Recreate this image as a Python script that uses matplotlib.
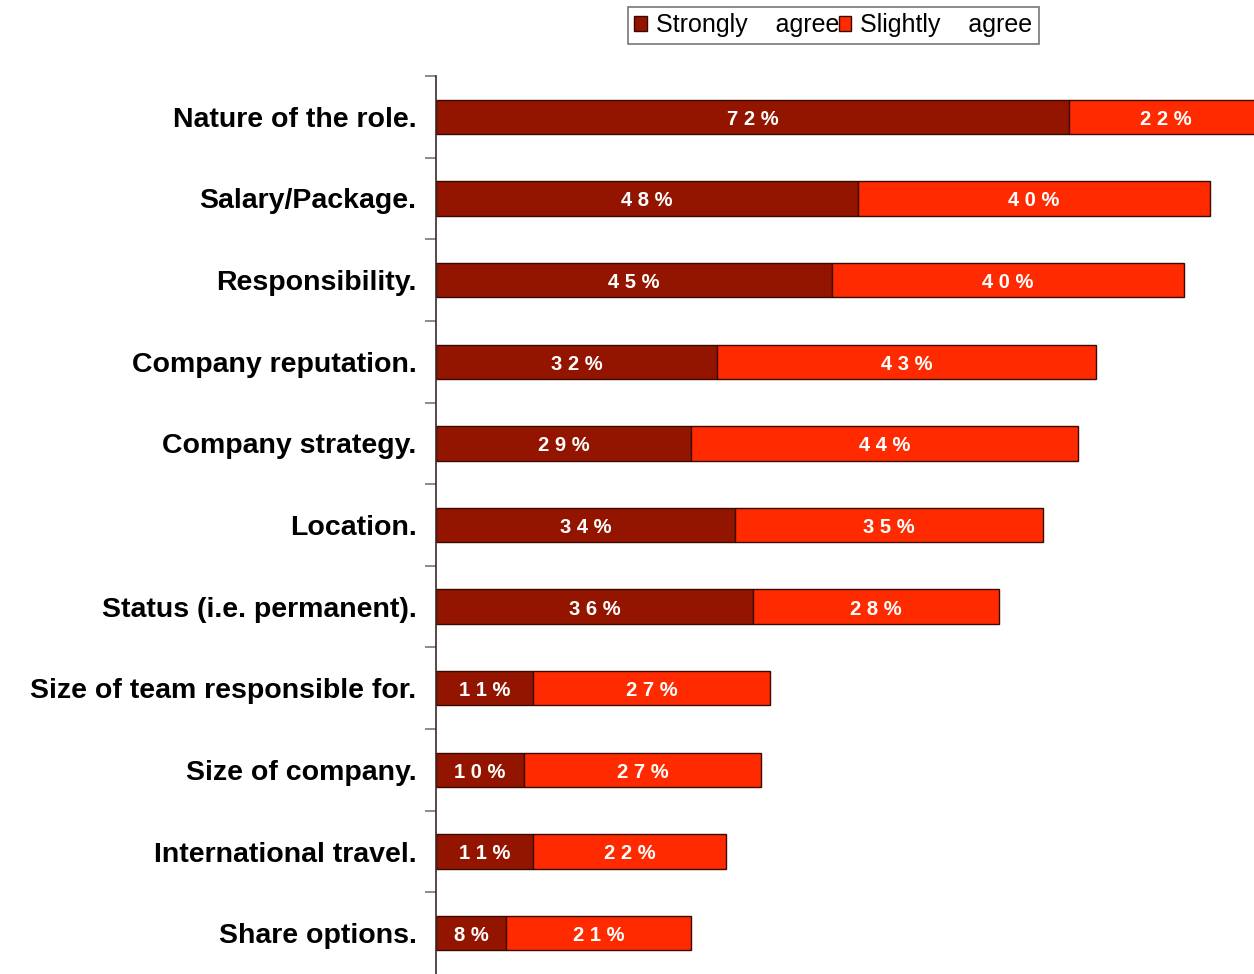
import numpy as np
import matplotlib.pyplot as plt

categories = ['Nature of the role.', 'Salary/Package.', 'Responsibility.',
              'Company reputation.', 'Company strategy.', 'Location.',
              'Status (i.e. permanent).', 'Size of team responsible for.',
              'Size of company.', 'International travel.', 'Share options.']
strongly = [72, 48, 45, 32, 29, 34, 36, 11, 10, 11, 8]
slightly = [22, 40, 40, 43, 44, 35, 28, 27, 27, 22, 21]

dark_red = '#931500'
bright_red = '#ff2a00'

plt.rcParams['font.family'] = ['Liberation Sans', 'DejaVu Sans']

fig = plt.figure(figsize=(12.54, 9.74), dpi=100)
ax = fig.add_axes([436 / 1254, 0.0, 1 - 436 / 1254, 898 / 974])

y = np.arange(len(categories))
h = 0.42
b1 = ax.barh(y, strongly, height=h, color=dark_red, edgecolor='#3a0a00',
             linewidth=1, label='Strongly    agree')
b2 = ax.barh(y, slightly, left=strongly, height=h, color=bright_red,
             edgecolor='#3a0a00', linewidth=1, label='Slightly    agree')

# percentage labels centred in each segment
for bars, vals, lefts in ((b1, strongly, [0] * len(strongly)), (b2, slightly, strongly)):
    for yi, v, l in zip(y, vals, lefts):
        ax.text(l + v / 2, yi + 0.03, ' '.join(f'{v}%'), ha='center', va='center',
                color='white', fontsize=14.5, fontweight='bold')

ax.set_xlim(0, 93)
ax.set_ylim(len(categories) - 0.5, -0.5)
ax.set_yticks(y)
ax.set_yticklabels(categories, fontsize=20.5, fontweight='bold')
ax.tick_params(axis='y', which='major', length=0, pad=14)
ax.set_yticks(np.arange(-0.5, len(categories) - 0.5, 1), minor=True)
ax.tick_params(axis='y', which='minor', length=8, color='#777777', width=1.2)
ax.set_xticks([])
for s in ('top', 'right', 'bottom'):
    ax.spines[s].set_visible(False)
ax.spines['left'].set_color('#3a2a2a')
ax.spines['left'].set_linewidth(1.2)

leg = fig.legend(loc='upper left', bbox_to_anchor=(628 / 1254, 1 - 7 / 974),
                 ncol=2, fontsize=18, frameon=True, fancybox=False,
                 handlelength=0.5, handleheight=0.5, handletextpad=0.35,
                 columnspacing=0.0, borderpad=0.25, borderaxespad=0)
leg.get_frame().set_edgecolor('#555555')
leg.get_frame().set_linewidth(1.2)

fig.savefig('out.png', dpi=100)
